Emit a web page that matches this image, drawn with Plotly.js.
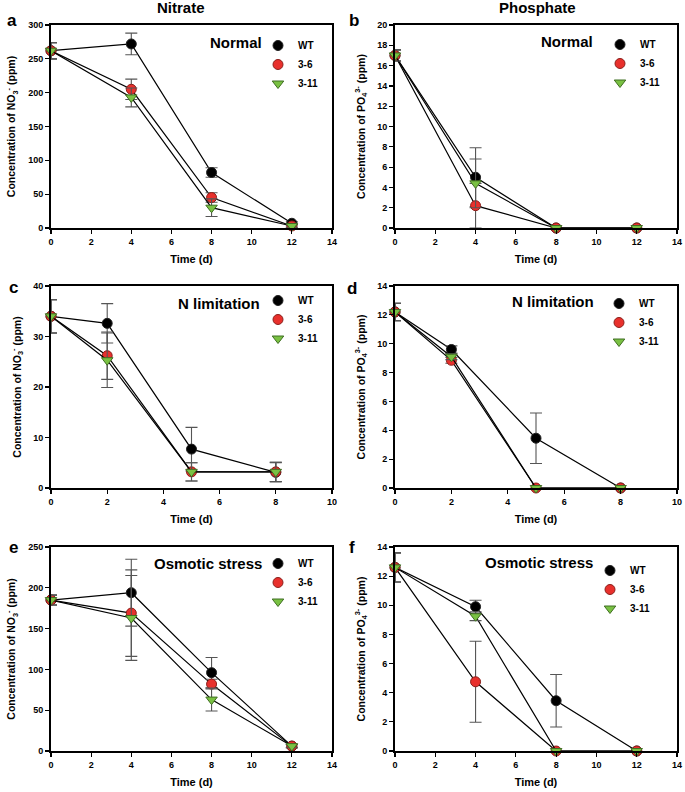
<!DOCTYPE html>
<html>
<head>
<meta charset="utf-8">
<script src="https://cdn.plot.ly/plotly-3.0.1.min.js"></script>
<style>html,body{margin:0;padding:0;background:#fff;}#chart{width:685px;height:792px;}</style>
</head>
<body>
<div id="chart"></div>
<script>
// ---------------- DATA ----------------
const seriesNames = ['WT', '3-6', '3-11'];
const daysLong = [0, 4, 8, 12];
const daysNlim = [0, 2, 5, 8];

// (a) Nitrate, Normal
const nitNormWT = [262, 272, 82, 7];
const nitNormWTerr = [12, 16, 7, 2];
const nitNorm36 = [262, 205, 45, 3];
const nitNorm36err = [12, 15, 7, 2];
const nitNorm311 = [262, 193, 30, 3];
const nitNorm311err = [12, 14, 13, 2];

// (b) Phosphate, Normal
const phoNormWT = [17, 5, 0, 0];
const phoNormWTerr = [0.55, 2.9, NaN, NaN];
const phoNorm36 = [17, 2.2, 0, 0];
const phoNorm36err = [0.55, 2.2, NaN, NaN];
const phoNorm311 = [17, 4.4, 0, 0];
const phoNorm311err = [0.55, 2.4, NaN, NaN];

// (c) Nitrate, N limitation
const nitNlimWT = [34, 32.6, 7.7, 3.1];
const nitNlimWTerr = [3.3, 3.9, 4.3, 1.9];
const nitNlim36 = [34, 26.2, 3.2, 3.2];
const nitNlim36err = [3.3, 4.7, 1.8, 1.9];
const nitNlim311 = [34, 25.3, 3.2, 3.2];
const nitNlim311err = [3.3, 5.4, 1.8, 1.9];

// (d) Phosphate, N limitation
const phoNlimWT = [12.2, 9.6, 3.45, 0];
const phoNlimWTerr = [0.6, 0.25, 1.75, NaN];
const phoNlim36 = [12.2, 8.85, 0, 0];
const phoNlim36err = [0.6, 0.2, NaN, NaN];
const phoNlim311 = [12.2, 9.1, 0, 0];
const phoNlim311err = [0.6, 0.2, NaN, NaN];

// (e) Nitrate, Osmotic stress
const nitOsmWT = [185, 194, 96, 6];
const nitOsmWTerr = [6, 41, 18.5, 2];
const nitOsm36 = [185, 169, 82, 6];
const nitOsm36err = [6, 53, 6, 2];
const nitOsm311 = [185, 163, 63, 6];
const nitOsm311err = [6, 52, 14, 2];

// (f) Phosphate, Osmotic stress
const phoOsmWT = [12.6, 9.9, 3.45, 0];
const phoOsmWTerr = [1.0, 0.45, 1.8, NaN];
const phoOsm36 = [12.6, 4.75, 0, 0];
const phoOsm36err = [1.0, 2.78, NaN, NaN];
const phoOsm311 = [12.6, 9.25, 0, 0];
const phoOsm311err = [1.0, 0.3, NaN, NaN];

const conditions = ['Normal', 'Normal', 'N limitation', 'N limitation', 'Osmotic stress', 'Osmotic stress'];
const columnTitles = ['Nitrate', 'Phosphate'];
const panelLetters = ['a', 'b', 'c', 'd', 'e', 'f'];
const xTitle = 'Time (d)';
const yTitleNit = 'Concentration of NO<sub>3</sub><sup>-</sup> (ppm)';
const yTitlePho = 'Concentration of PO<sub>4</sub><sup>3-</sup> (ppm)';

// ---------------- STYLE ----------------
const FONT = 'Liberation Sans, Arial, sans-serif';
const markerStyles = [
  {symbol: 'circle', color: '#000000', line: {color: '#222222', width: 1}},
  {symbol: 'circle', color: '#e8302c', line: {color: '#8a1f1a', width: 1}},
  {symbol: 'triangle-down', color: '#79c142', line: {color: '#3f6e22', width: 1}}
];

const panels = [
  {x: daysLong, ys: [nitNormWT, nitNorm36, nitNorm311], es: [nitNormWTerr, nitNorm36err, nitNorm311err]},
  {x: daysLong, ys: [phoNormWT, phoNorm36, phoNorm311], es: [phoNormWTerr, phoNorm36err, phoNorm311err]},
  {x: daysNlim, ys: [nitNlimWT, nitNlim36, nitNlim311], es: [nitNlimWTerr, nitNlim36err, nitNlim311err]},
  {x: daysNlim, ys: [phoNlimWT, phoNlim36, phoNlim311], es: [phoNlimWTerr, phoNlim36err, phoNlim311err]},
  {x: daysLong, ys: [nitOsmWT, nitOsm36, nitOsm311], es: [nitOsmWTerr, nitOsm36err, nitOsm311err]},
  {x: daysLong, ys: [phoOsmWT, phoOsm36, phoOsm311], es: [phoOsmWTerr, phoOsm36err, phoOsm311err]}
];

const W = 685, H = 792;
const px = v => v / W;
const py = v => 1 - v / H;

const xDomLeft = [px(51), px(332)];
const xDomRight = [px(395), px(677)];
const yDoms = [[py(228), py(25)], [py(488), py(286)], [py(751), py(547)]];
const xRanges = [[0, 14], [0, 14], [0, 10], [0, 10], [0, 14], [0, 14]];
const yRanges = [[0, 300], [0, 20], [0, 40], [0, 14], [0, 250], [0, 14]];
const yDticks = [50, 2, 10, 2, 50, 2];

const legendPos = [[258, 31], [600, 30], [258, 286], [599, 289], [258, 549], [590, 556]];
const condPos = [[264, 43], [595, 42], [262, 303], [596, 302], [264, 563], [595, 562]];
const letterPos = [[12, 20], [354, 20], [13, 287], [352, 288], [13, 547], [352, 547]];
const colTitlePos = [[181, 8], [537, 8]];

const traces = [];
const layout = {
  width: W, height: H,
  margin: {l: 0, r: 0, t: 0, b: 0},
  paper_bgcolor: '#ffffff', plot_bgcolor: '#ffffff',
  font: {family: FONT, color: '#000000'},
  showlegend: true,
  annotations: []
};

panels.forEach((p, i) => {
  const n = i + 1;
  const xa = n === 1 ? 'x' : 'x' + n;
  const ya = n === 1 ? 'y' : 'y' + n;
  const leg = n === 1 ? 'legend' : 'legend' + n;
  p.ys.forEach((yv, s) => {
    // connecting line
    traces.push({
      type: 'scatter', mode: 'lines',
      x: p.x, y: yv, name: seriesNames[s],
      xaxis: xa, yaxis: ya, showlegend: false, cliponaxis: false,
      line: {color: '#000000', width: 1.2}
    });
    // markers with error bars
    traces.push({
      type: 'scatter', mode: 'markers',
      x: p.x, y: yv, name: seriesNames[s],
      xaxis: xa, yaxis: ya, legend: leg,
      cliponaxis: false,
      marker: Object.assign({size: 10}, markerStyles[s]),
      error_y: {type: 'data', array: p.es[s], visible: true, color: '#555555', thickness: 1.1, width: 6}
    });
  });
  const left = (i % 2 === 0);
  const row = Math.floor(i / 2);
  const axBase = {
    showline: true, linecolor: '#000000', linewidth: 2, mirror: true,
    ticks: 'outside', ticklen: 4, tickwidth: 1.2, tickcolor: '#000000',
    showgrid: false, zeroline: false,
    tickfont: {family: FONT, size: 9, weight: 'bold', color: '#000000'}
  };
  layout['xaxis' + (n === 1 ? '' : n)] = Object.assign({}, axBase, {
    domain: left ? xDomLeft : xDomRight,
    anchor: ya, range: xRanges[i], dtick: 2, tick0: 0,
    title: {text: xTitle, font: {family: FONT, size: 11, weight: 'bold'}, standoff: 10}
  });
  layout['yaxis' + (n === 1 ? '' : n)] = Object.assign({}, axBase, {
    domain: yDoms[row], anchor: xa, range: yRanges[i], dtick: yDticks[i], tick0: 0,
    title: {text: left ? yTitleNit : yTitlePho, font: {family: FONT, size: 10.5, weight: 'bold'}, standoff: 10}
  });
  layout[leg] = {
    x: px(legendPos[i][0]), y: py(legendPos[i][1]), xanchor: 'left', yanchor: 'top',
    bgcolor: 'rgba(0,0,0,0)', borderwidth: 0, itemsizing: 'trace', itemwidth: 30,
    font: {family: FONT, size: 10, weight: 'bold', color: '#000000'}
  };
  layout.annotations.push({
    xref: 'paper', yref: 'paper', x: px(condPos[i][0]), y: py(condPos[i][1]),
    xanchor: 'right', yanchor: 'middle', showarrow: false, text: conditions[i],
    font: {family: FONT, size: 15, weight: 'bold', color: '#000000'}
  });
  layout.annotations.push({
    xref: 'paper', yref: 'paper', x: px(letterPos[i][0]), y: py(letterPos[i][1]),
    xanchor: 'center', yanchor: 'middle', showarrow: false, text: panelLetters[i],
    font: {family: FONT, size: 17, weight: 'bold', color: '#000000'}
  });
});

columnTitles.forEach((t, c) => {
  layout.annotations.push({
    xref: 'paper', yref: 'paper', x: px(colTitlePos[c][0]), y: py(colTitlePos[c][1]),
    xanchor: 'center', yanchor: 'middle', showarrow: false, text: t,
    font: {family: FONT, size: 15, weight: 'bold', color: '#000000'}
  });
});

Plotly.newPlot('chart', traces, layout, {displayModeBar: false, staticPlot: true});
</script>
</body>
</html>
